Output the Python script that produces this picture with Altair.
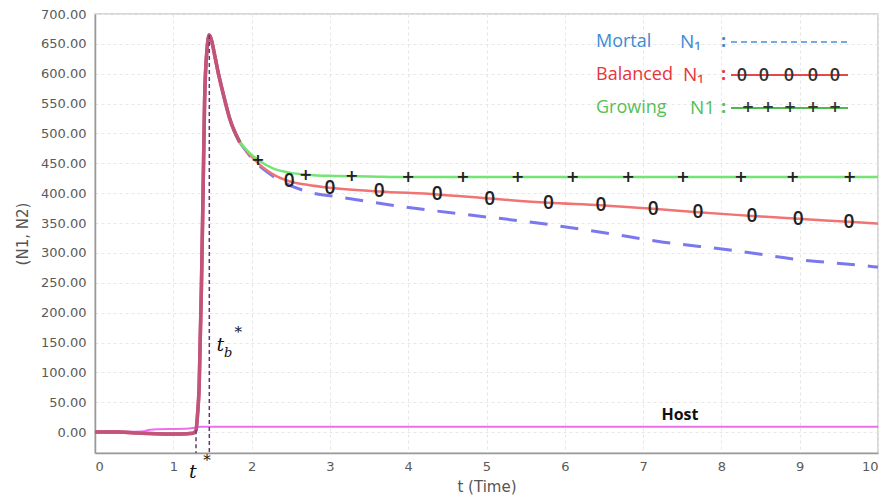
import altair as alt
import pandas as pd

# ---------------- data ----------------
# shared part of all N1 curves (before they split)
t_common = [0.0, 0.3, 0.6, 0.9, 1.1, 1.25, 1.29, 1.31, 1.33, 1.36, 1.38, 1.40, 1.43, 1.46,
            1.49, 1.53, 1.58, 1.64, 1.72, 1.85]
v_common = [0.0, 0.0, -2.0, -3.0, -3.0, -2.0, 3.0, 30.0, 75.0, 250.0, 400.0, 557.0, 640.0, 665.0,
            655.0, 630.0, 598.0, 565.0, 525.0, 485.0]

t_growing = [1.85, 2.0, 2.08, 2.28, 2.5, 2.7, 3.0, 3.5, 4.0, 5.0, 6.0, 7.0, 8.0, 9.0, 10.0]
v_growing = [485.0, 464.0, 456.0, 441.0, 434.0, 431.0, 429.0, 428.0, 427.0, 427.0, 427.0, 427.0, 427.0, 427.0, 427.0]

t_balanced = [1.85, 2.0, 2.28, 2.48, 2.71, 3.0, 3.63, 4.37, 5.04, 5.79, 6.46, 7.13, 7.70, 8.39, 8.98, 9.63, 10.0]
v_balanced = [485.0, 461.0, 431.0, 420.0, 414.0, 409.0, 403.0, 398.0, 391.0, 384.0, 380.0, 374.0, 368.0, 362.0, 357.0, 352.0, 349.0]

t_mortal = [1.85, 2.0, 2.28, 2.7, 3.1, 3.9, 4.75, 5.6, 6.4, 7.26, 8.11, 8.97, 9.94, 10.0]
v_mortal = [485.0, 459.0, 428.0, 403.0, 394.0, 378.0, 364.0, 351.0, 336.0, 318.0, 305.0, 289.0, 277.0, 276.0]

t_host = [0.0, 0.6, 0.7, 1.2, 1.3, 1.35, 10.0]
v_host = [0.0, 1.0, 4.0, 6.0, 8.0, 9.0, 9.0]

# symbols drawn on the curves
t_plus = [2.08, 2.69, 3.28, 4.0, 4.70, 5.40, 6.10, 6.81, 7.51, 8.25, 8.91, 9.64]
v_plus = [456.0, 431.0, 428.0, 427.0, 427.0, 427.0, 427.0, 427.0, 427.0, 427.0, 427.0, 427.0]
t_zero = [2.48, 3.0, 3.63, 4.37, 5.04, 5.79, 6.46, 7.13, 7.70, 8.39, 8.98, 9.63]
v_zero = [420.0, 409.0, 403.0, 398.0, 391.0, 384.0, 380.0, 374.0, 368.0, 362.0, 357.0, 352.0]

# critical times
t_star = 1.29
t_b_star = 1.46
v_t_star = 3.0
v_t_b_star = 665.0

x_ticks = list(range(0, 11))
y_ticks = list(range(0, 701, 50))

# ---------------- shared encodings ----------------
x_axis = alt.Axis(values=x_ticks, format="d", title="t (Time)", ticks=False,
                  labelPadding=7, titlePadding=6, grid=True, labelOverlap=False, tickCount=11)
y_axis = alt.Axis(values=y_ticks, format=".2f", title="(N1, N2)", ticks=False,
                  labelPadding=9, titlePadding=10, grid=True, labelOverlap=False, tickCount=15)
x_scale = alt.Scale(domain=[0, 10], nice=False, zero=False)
y_scale = alt.Scale(domain=[-35, 700], nice=False, zero=False)

def X():
    return alt.X("t:Q", scale=x_scale, axis=x_axis)

def Y(field="v"):
    return alt.Y(f"{field}:Q", scale=y_scale, axis=y_axis)

def line_df(ts, vs):
    return pd.DataFrame({"t": ts, "v": vs})

common_df = line_df(t_common, v_common)
grow_df = line_df(t_growing, v_growing)
bal_df = line_df(t_balanced, v_balanced)
mort_df = line_df(t_mortal, v_mortal)
host_df = line_df(t_host, v_host)

base_common = alt.Chart(common_df).mark_line(
    color="#c25478", strokeWidth=3.5, interpolate="monotone").encode(x=X(), y=Y())

mortal = alt.Chart(mort_df).mark_line(
    color="#7b78ee", strokeWidth=3, strokeDash=[18, 13], interpolate="monotone").encode(x=X(), y=Y())
balanced = alt.Chart(bal_df).mark_line(
    color="#f07474", strokeWidth=2.5, interpolate="monotone").encode(x=X(), y=Y())
growing = alt.Chart(grow_df).mark_line(
    color="#74e474", strokeWidth=2.5, interpolate="monotone").encode(x=X(), y=Y())
host = alt.Chart(host_df).mark_line(
    color="#ee6ef0", strokeWidth=2, interpolate="monotone").encode(x=X(), y=Y())

plus_marks = alt.Chart(pd.DataFrame({"t": t_plus, "v": v_plus, "s": ["+"] * len(t_plus)})).mark_text(
    font="DejaVu Sans", fontSize=16, fontWeight="bold", color="#222222", baseline="middle").encode(
    x=X(), y=Y(), text="s:N")
zero_marks = alt.Chart(pd.DataFrame({"t": t_zero, "v": v_zero, "s": ["0"] * len(t_zero)})).mark_text(
    font="Open Sans", fontSize=19, fontWeight=600, color="#222222", baseline="middle").encode(
    x=X(), y=Y(), text="s:N")

# dashed verticals for t* and tb*
vlines_df = pd.DataFrame({"t": [t_star, t_b_star], "v": [v_t_star, v_t_b_star], "v2": [-35, -35]})
vlines = alt.Chart(vlines_df).mark_rule(color="#5e3d6e", strokeWidth=1.5, strokeDash=[4, 3]).encode(
    x=X(), y=Y(), y2="v2:Q")

# labels t*, tb*
lab_df = pd.DataFrame({
    "t": [1.25, 1.43, 1.60, 1.70, 1.83],
    "v": [-66.0, -47.0, 145.0, 133.0, 168.0],
    "s": ["t", "*", "t", "b", "*"],
    "size": [19, 15, 19, 13, 15],
})
labels_t = alt.Chart(lab_df).mark_text(font="DejaVu Serif", fontStyle="italic", color="#111111",
                                        baseline="middle").encode(
    x=X(), y=Y(), text="s:N", size=alt.Size("size:Q", scale=None, legend=None))

host_label = alt.Chart(pd.DataFrame({"t": [7.47], "v": [28.0], "s": ["Host"]})).mark_text(
    font="Open Sans", fontSize=16, fontWeight="bold", color="#111111", baseline="middle").encode(
    x=X(), y=Y(), text="s:N")

# ---------------- custom legend (pixel layout inside plot area) ----------------
leg_words = ["Mortal", "Balanced", "Growing"]
leg_subs = ["N\u2081", "N\u2081", "N1"]
leg_colors = ["#3b8bd3", "#e8343c", "#55c058"]
leg_rows = [28, 61, 94]
leg_sub_x = [585, 588, 595]

legend_layers = []
for w, sname, c, yy, sx in zip(leg_words, leg_subs, leg_colors, leg_rows, leg_sub_x):
    d = pd.DataFrame({"s": [w]})
    legend_layers.append(alt.Chart(d).mark_text(font="Open Sans", fontSize=18, color=c, align="left",
                                                baseline="middle").encode(
        x=alt.value(501), y=alt.value(yy), text="s:N"))
    d2 = pd.DataFrame({"s": [sname]})
    legend_layers.append(alt.Chart(d2).mark_text(font="Open Sans", fontSize=19, color=c, align="left",
                                                 baseline="middle").encode(
        x=alt.value(sx), y=alt.value(yy), text="s:N"))
    d3 = pd.DataFrame({"s": [":"]})
    legend_layers.append(alt.Chart(d3).mark_text(font="Open Sans", fontSize=18, fontWeight="bold",
                                                 color=c, align="left", baseline="middle").encode(
        x=alt.value(626), y=alt.value(yy), text="s:N"))

leg_line_df = pd.DataFrame({"k": ["m"]})
legend_layers.append(alt.Chart(leg_line_df).mark_rule(color="#4a8fd6", strokeWidth=1.5, strokeDash=[6, 4]).encode(
    x=alt.value(636), x2=alt.value(753), y=alt.value(leg_rows[0])))
legend_layers.append(alt.Chart(leg_line_df).mark_rule(color="#e84848", strokeWidth=2).encode(
    x=alt.value(636), x2=alt.value(753), y=alt.value(leg_rows[1])))
legend_layers.append(alt.Chart(leg_line_df).mark_rule(color="#4cba4c", strokeWidth=2).encode(
    x=alt.value(636), x2=alt.value(753), y=alt.value(leg_rows[2])))

leg_zero_x = [647, 669, 694, 718, 740]
leg_plus_x = [653, 673, 695, 718, 740]
for xx in leg_zero_x:
    legend_layers.append(alt.Chart(pd.DataFrame({"s": ["0"]})).mark_text(
        font="Open Sans", fontSize=18, fontWeight=600, color="#333333", baseline="middle").encode(
        x=alt.value(xx), y=alt.value(leg_rows[1] + 1), text="s:N"))
for xx in leg_plus_x:
    legend_layers.append(alt.Chart(pd.DataFrame({"s": ["+"]})).mark_text(
        font="DejaVu Sans", fontSize=15, fontWeight="bold", color="#333333", baseline="middle").encode(
        x=alt.value(xx), y=alt.value(leg_rows[2] - 1), text="s:N"))

chart = alt.layer(
    base_common, host, mortal, balanced, growing, base_common,
    vlines, plus_marks, zero_marks, labels_t, host_label, *legend_layers
).properties(
    width=783, height=439,
    autosize=alt.AutoSizeParams(type="none"),
    padding={"left": 95, "top": 14, "right": 8, "bottom": 45},
    background="white",
).configure_view(
    stroke="#cccccc", strokeWidth=1.5
).configure_axis(
    labelFont="DejaVu Sans", labelFontSize=13, labelColor="#5a5a5a",
    titleFont="DejaVu Sans", titleFontSize=15, titleColor="#555555", titleFontWeight="normal",
    domainColor="#999999", domainWidth=1.5,
    gridColor="#e6e6e6", gridDash=[3, 3], gridWidth=1, labelOverlap=False,
)

chart.save("out.html", embed_options={"renderer": "svg", "actions": False})
